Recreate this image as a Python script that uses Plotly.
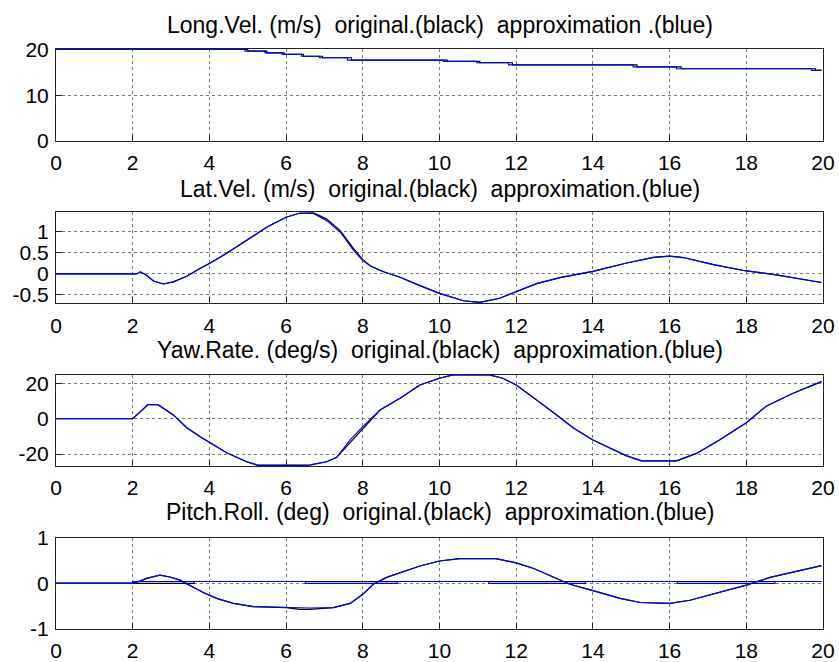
import plotly.graph_objects as go

# ---- Longitudinal velocity (m/s): stepped signal ----
lv_t_orig = [0, 5.0, 5.5, 5.95, 6.45, 6.95, 7.7, 10.2, 11.05, 11.9, 15.15, 16.3, 19.8, 19.96]
lv_orig = [20, 19.6, 19.26, 18.9, 18.5, 18.17, 17.67, 17.38, 17.08, 16.64, 16.2, 15.77, 15.4, 15.4]
lv_t_appr = [0, 4.93, 5.45, 5.9, 6.4, 6.87, 7.6, 10.1, 10.97, 11.8, 15.05, 16.18, 19.7, 19.96]
lv_appr = [20, 19.6, 19.26, 18.9, 18.5, 18.17, 17.67, 17.38, 17.08, 16.64, 16.2, 15.77, 15.4, 15.4]

# ---- Lateral velocity (m/s) ----
lat_t = [0, 2.1, 2.2, 2.36, 2.54, 2.8, 3.06, 3.41, 3.75, 4.0, 4.45, 4.97, 5.49, 6.0, 6.36,
         6.71, 7.06, 7.41, 7.76, 8.0, 8.2, 8.54, 8.97, 9.49, 10.0, 10.62, 11.05, 11.57, 12.0,
         12.53, 13.14, 14.0, 14.88, 15.58, 16.0, 16.36, 17.14, 18.0, 18.7, 19.48, 19.96]
lat_orig = [0, 0, 0.05, -0.03, -0.17, -0.24, -0.19, -0.055, 0.13, 0.25, 0.49, 0.8, 1.11, 1.35, 1.45,
            1.46, 1.31, 1.03, 0.6, 0.34, 0.19, 0.05, -0.08, -0.28, -0.465, -0.64, -0.68, -0.58, -0.43,
            -0.23, -0.09, 0.06, 0.26, 0.395, 0.425, 0.39, 0.22, 0.07, -0.01, -0.135, -0.205]
lat_appr = [0, 0, 0.05, -0.03, -0.17, -0.24, -0.19, -0.055, 0.13, 0.25, 0.49, 0.8, 1.11, 1.35, 1.45,
            1.44, 1.27, 1.0, 0.56, 0.32, 0.19, 0.05, -0.08, -0.28, -0.465, -0.64, -0.68, -0.58, -0.43,
            -0.23, -0.09, 0.06, 0.26, 0.395, 0.425, 0.39, 0.22, 0.07, -0.01, -0.135, -0.205]

# ---- Yaw rate (deg/s) ----
yaw_t = [0, 2.0, 2.4, 2.66, 3.06, 3.41, 3.76, 4.0, 4.45, 4.97, 5.27, 6.0, 6.62, 7.06, 7.32, 7.67,
         8.0, 8.45, 8.97, 9.49, 10.0, 10.35, 11.3, 11.65, 12.0, 12.53, 13.06, 13.5, 14.0, 14.55,
         14.88, 15.27, 16.0, 16.18, 16.7, 17.3, 18.0, 18.53, 19.22, 19.96]
yaw_orig = [0, 0, 7.9, 7.9, 2.1, -5.1, -10.2, -13.5, -19.2, -24.3, -26.4, -26.4, -26.2, -24.3, -21.8,
            -13.5, -5.5, 4.9, 11.5, 19, 22.8, 24.7, 24.7, 22.8, 19, 10.6, 2.1, -5.4, -12, -17.7,
            -21, -23.8, -23.8, -23.8, -19.6, -12, -2.3, 7.2, 14.3, 20.9]
yaw_appr = [0, 0, 7.9, 7.9, 2.1, -5.1, -10.2, -13.5, -19.2, -24.3, -26.2, -26.2, -26.0, -24.3, -21.8,
            -12, -4.5, 4.9, 11.5, 19, 22.8, 24.7, 24.7, 22.8, 19, 10.6, 2.1, -5.4, -12, -17.7,
            -21, -23.8, -23.8, -23.8, -19.6, -12, -2.3, 7.2, 14.3, 20.9]

# ---- Roll (deg) ----
roll_t = [0, 2.0, 2.19, 2.36, 2.71, 2.97, 3.23, 3.49, 3.84, 4.19, 4.62, 5.15, 6.0, 6.36, 6.6, 7.23,
          7.67, 8.0, 8.27, 8.62, 9.06, 9.49, 10.0, 10.53, 11.47, 12.0, 12.44, 13.14, 13.4, 14.0,
          14.71, 15.23, 16.0, 16.53, 17.14, 18.0, 18.62, 19.22, 19.96]
roll_orig = [0, 0, 0.05, 0.11, 0.18, 0.14, 0.07, -0.05, -0.2, -0.33, -0.44, -0.51, -0.53, -0.57, -0.57,
             -0.53, -0.44, -0.24, -0.02, 0.13, 0.25, 0.38, 0.49, 0.54, 0.54, 0.45, 0.33, 0.07, -0.02,
             -0.16, -0.33, -0.42, -0.44, -0.37, -0.24, -0.04, 0.13, 0.25, 0.39]
roll_appr = [0, 0, 0.05, 0.11, 0.18, 0.14, 0.07, -0.05, -0.2, -0.33, -0.44, -0.51, -0.53, -0.55, -0.54,
             -0.53, -0.44, -0.24, -0.02, 0.13, 0.25, 0.38, 0.49, 0.54, 0.54, 0.45, 0.33, 0.07, -0.02,
             -0.16, -0.33, -0.42, -0.44, -0.37, -0.24, -0.04, 0.13, 0.25, 0.39]

# ---- Pitch (deg): small quantised signal ----
pitch_t_orig = [0, 3.6, 19.96]
pitch_orig = [0, 0.04, 0.04]
pitch_t_appr = [0, 2.0, 6.5, 8.9, 11.28, 13.8, 16.2, 18.75, 19.96]
pitch_appr = [0, 0.04, 0, 0.04, 0, 0.04, 0, 0.04, 0.04]

# ---- Titles and ticks ----
titles = [
    "Long.Vel. (m/s)  original.(black)  approximation .(blue)",
    "Lat.Vel. (m/s)  original.(black)  approximation.(blue)",
    "Yaw.Rate. (deg/s)  original.(black)  approximation.(blue)",
    "Pitch.Roll. (deg)  original.(black)  approximation.(blue)",
]
x_ticks = [0, 2, 4, 6, 8, 10, 12, 14, 16, 18, 20]
y_tickvals = [[0, 10, 20], [-0.5, 0, 0.5, 1], [-20, 0, 20], [-1, 0, 1]]
y_ticktext = [["0", "10", "20"], ["-0.5", "0", "0.5", "1"], ["-20", "0", "20"], ["-1", "0", "1"]]
y_ranges = [[0, 20.15], [-0.70, 1.47], [-26.7, 24.9], [-1, 1]]

W, H = 839, 662
x_dom = [56 / W, 823 / W]
# panel top/bottom in pixels
panels_px = [(48.7, 141), (212.2, 303.3), (374.5, 466), (537.7, 629)]
title_px = [25, 189, 350, 512]

BLACK = "#000000"
BLUE = "#0000ff"
FONT = "Liberation Sans, Arial, Helvetica, sans-serif"

fig = go.Figure()

series = [
    [(lv_t_orig, lv_orig, BLACK, "hv"), (lv_t_appr, lv_appr, BLUE, "hv")],
    [(lat_t, lat_orig, BLACK, "linear"), (lat_t, lat_appr, BLUE, "linear")],
    [(yaw_t, yaw_orig, BLACK, "linear"), (yaw_t, yaw_appr, BLUE, "linear")],
    [(pitch_t_orig, pitch_orig, BLACK, "hv"), (pitch_t_appr, pitch_appr, BLUE, "hv"),
     (roll_t, roll_orig, BLACK, "linear"), (roll_t, roll_appr, BLUE, "linear")],
]

for i, group in enumerate(series):
    sfx = "" if i == 0 else str(i + 1)
    for t, v, col, shape in group:
        fig.add_trace(go.Scatter(
            x=t, y=v, mode="lines", xaxis="x" + sfx, yaxis="y" + sfx,
            line=dict(color=col, width=1.2, shape=shape), showlegend=False,
            hoverinfo="skip"))

layout = dict(
    width=W, height=H, autosize=False,
    margin=dict(l=0, r=0, t=0, b=0),
    paper_bgcolor="white", plot_bgcolor="white",
    font=dict(family=FONT, size=20, color="black"),
    showlegend=False,
)

axis_common = dict(
    showline=True, linecolor="#222", linewidth=1, mirror=True,
    ticks="inside", ticklen=6, tickcolor="#222", tickwidth=1,
    showgrid=True, gridcolor="#777", griddash="dot", gridwidth=1,
    zeroline=False, automargin=False, layer="below traces",
    tickfont=dict(family=FONT, size=21, color="black"),
)

for i in range(4):
    sfx = "" if i == 0 else str(i + 1)
    top, bot = panels_px[i]
    y_dom = [1 - bot / H, 1 - top / H]
    layout["xaxis" + sfx] = dict(
        axis_common, domain=x_dom, range=[0, 20], anchor="y" + sfx,
        tickvals=x_ticks, ticktext=[str(v) for v in x_ticks], ticklabelstandoff=3)
    layout["yaxis" + sfx] = dict(
        axis_common, domain=y_dom, range=y_ranges[i], anchor="x" + sfx,
        tickvals=y_tickvals[i], ticktext=y_ticktext[i], ticklabelstandoff=2)

annotations = []
for i, txt in enumerate(titles):
    annotations.append(dict(
        text=txt, xref="paper", yref="paper",
        x=(x_dom[0] + x_dom[1]) / 2, y=1 - title_px[i] / H,
        xanchor="center", yanchor="middle", showarrow=False,
        font=dict(family=FONT, size=23, color="black")))
layout["annotations"] = annotations

fig.update_layout(**layout)
fig.write_html("out.html")
